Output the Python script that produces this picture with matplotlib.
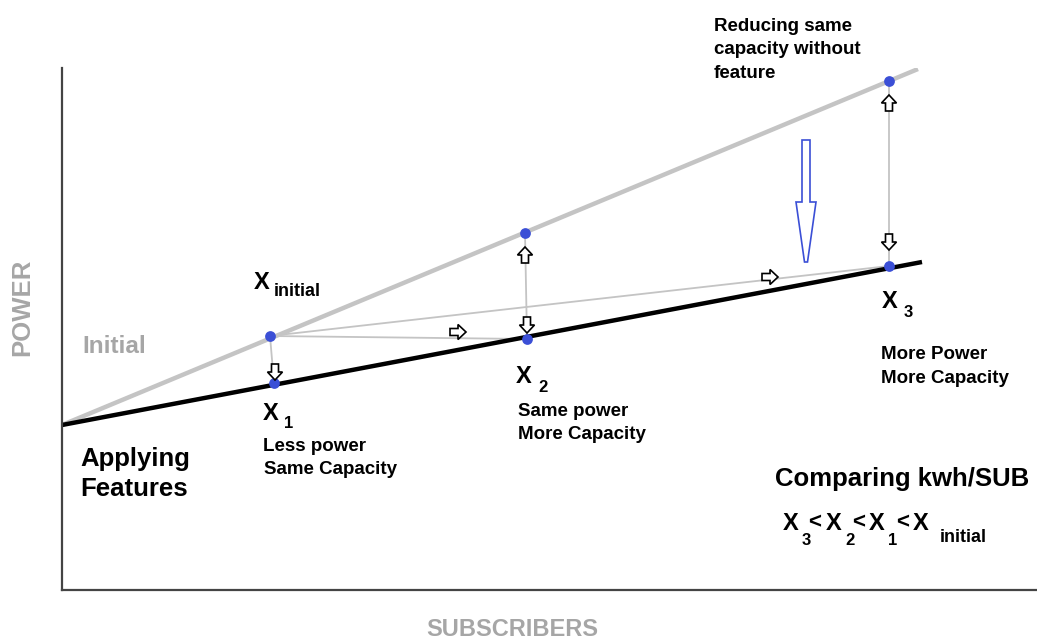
import numpy as np
import matplotlib.pyplot as plt
from matplotlib.patches import Polygon

plt.rcParams['font.family'] = ['Liberation Sans', 'DejaVu Sans']

# line endpoints (subscribers vs power)
line_x = [0, 856]
initial_y = [165, 521]
feature_x = [0, 860]
feature_y = [165, 328]

# operating points
pt_names = ['Xinitial', 'X1', 'X2', 'X2up', 'X3up', 'X3']
pt_x = [208, 212, 465, 463, 827, 827]
pt_y = [254, 207, 251, 357, 509, 324]

GRAY = '#c4c4c4'
BLUE = '#3b4fd6'
LBL = '#a6a6a6'

fig = plt.figure(figsize=(10.37, 6.41), dpi=100)
W, H = 1037, 641
ax = fig.add_axes([62 / W, (H - 590) / H, 975 / W, 522 / H])
ax.set_xlim(0, 975)
ax.set_ylim(0, 522)
for s in ['top', 'right']:
    ax.spines[s].set_visible(False)
for s in ['left', 'bottom']:
    ax.spines[s].set_color('#444444')
    ax.spines[s].set_linewidth(1.6)
ax.set_xticks([])
ax.set_yticks([])

def px(x, y):
    return x - 62, 590 - y

P = dict(zip(pt_names, zip(pt_x, pt_y)))

# thin helper lines
def thin(a, b):
    ax.plot([P[a][0], P[b][0]], [P[a][1], P[b][1]], color=GRAY, lw=1.3, zorder=1)

thin('Xinitial', 'X1')
thin('Xinitial', 'X2')
thin('Xinitial', 'X3')
thin('X2up', 'X2')
thin('X3up', 'X3')

ax.plot(line_x, initial_y, color=GRAY, lw=3.2, zorder=2, solid_capstyle='butt')
ax.plot(feature_x, feature_y, color='black', lw=3.2, zorder=2, solid_capstyle='butt')
ax.scatter(pt_x, pt_y, s=60, color=BLUE, zorder=5, linewidths=0)

def block_arrow(x, y, d, L=16, sw=7, hw=15, hl=8, ec='black', lw=1.2):
    # polygon pointing +x, centred at 0
    shape = np.array([[-L / 2, -sw / 2], [L / 2 - hl, -sw / 2], [L / 2 - hl, -hw / 2],
                      [L / 2, 0], [L / 2 - hl, hw / 2], [L / 2 - hl, sw / 2], [-L / 2, sw / 2]])
    ang = {'right': 0, 'up': 90, 'left': 180, 'down': 270}[d]
    t = np.deg2rad(ang)
    R = np.array([[np.cos(t), -np.sin(t)], [np.sin(t), np.cos(t)]])
    pts = shape @ R.T + np.array([x, y])
    ax.add_patch(Polygon(pts, closed=True, facecolor='white', edgecolor=ec, lw=lw, zorder=6))

block_arrow(*px(275, 372), 'down')
block_arrow(*px(458, 332), 'right')
block_arrow(*px(525, 255), 'up')
block_arrow(*px(527, 325), 'down')
block_arrow(*px(770, 277), 'right')
block_arrow(*px(889, 103), 'up')
block_arrow(*px(889, 242), 'down')

# big blue arrow
bx, by = px(806, 140)
big = np.array([[bx - 4, by], [bx + 4, by], [bx + 4, by - 62], [bx + 10, by - 62],
                [bx + 1.5, by - 122], [bx - 1.5, by - 122], [bx - 10, by - 62], [bx - 4, by - 62]])
ax.add_patch(Polygon(big, closed=True, facecolor='white', edgecolor=BLUE, lw=1.2, zorder=6))

def txt(x, y, s, size, color='black', weight='bold', **kw):
    # y is the baseline in pixel rows from the top
    ax.text(*px(x, y), s, fontsize=size, color=color, fontweight=weight,
            va='baseline', ha='left', clip_on=False, **kw)

def big_x(x, y):
    txt(x, y, 'X', 17, weight='bold')

txt(714, 31, 'Reducing same', 13.5)
txt(714, 54, 'capacity without', 13.5)
txt(714, 78, 'feature', 13.5)

big_x(254, 289)
txt(274, 296, 'initial', 13)
txt(82, 353, 'Initial', 17.5, color=LBL)

big_x(263, 420)
txt(284, 428, '1', 12)
txt(263, 451, 'Less power', 13.5)
txt(264, 474, 'Same Capacity', 13.5)

big_x(516, 383)
txt(538, 392, '2', 12)
txt(518, 416, 'Same power', 13.5)
txt(518, 439, 'More Capacity', 13.5)

big_x(882, 308)
txt(904, 317, '3', 12)
txt(881, 359, 'More Power', 13.5)
txt(881, 383, 'More Capacity', 13.5)

txt(80, 466, 'Applying', 18.5)
txt(80, 496, 'Features', 18.5)
txt(775, 486, 'Comparing kwh/SUB', 18.5)

# inequality row
for xx, sub, lt in [(783, '3', 808), (826, '2', 852), (869, '1', 896)]:
    big_x(xx, 530)
    txt(xx + 19, 545, sub, 12)
    txt(lt, 528, '<', 16)
big_x(913, 530)
txt(940, 542, 'initial', 13)

fig.text(22 / W, 1 - 307 / H, 'POWER', rotation=90, fontsize=18.5, color=LBL,
         fontweight='bold', ha='center', va='center')
fig.text(512 / W, 1 - 629 / H, 'SUBSCRIBERS', fontsize=17, color=LBL,
         fontweight='bold', ha='center', va='center')

fig.savefig('out.png', dpi=100)
